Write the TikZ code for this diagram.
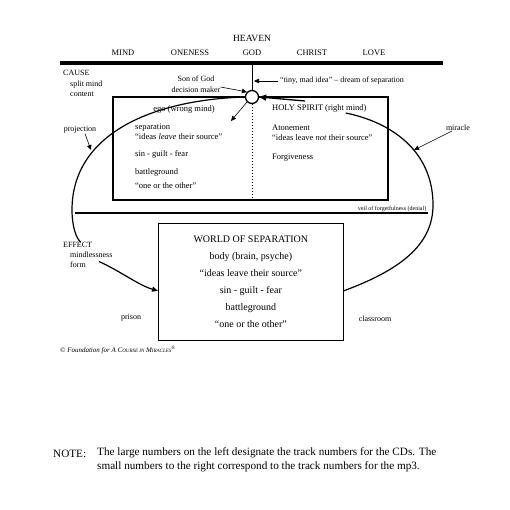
\documentclass[tikz,border=0pt]{standalone}
\usepackage{fontspec}
\setmainfont{Liberation Serif}
\usetikzlibrary{arrows.meta, positioning}

\newcommand{\acim}{A C{\fontsize{5}{6}\selectfont OURSE IN} M{\fontsize{5}{6}\selectfont IRACLES}}

\begin{document}
\begin{tikzpicture}[x=1pt, y=-1pt,
    head/.style={font=\fontsize{8.5}{10}\selectfont, inner sep=0pt},
    lbl/.style={font=\fontsize{8}{10.5}\selectfont, inner sep=0pt, align=left},
    boxtxt/.style={font=\fontsize{8.5}{9.5}\selectfont, inner sep=0pt, anchor=west, align=left},
    arr/.style={-{Triangle[length=5pt, width=4.5pt]}, line width=0.6pt},
    bigarr/.style={-{Triangle[length=7pt, width=6pt]}, line width=1.3pt},
    loopline/.style={line width=1.2pt}
]
    \useasboundingbox (0,0) rectangle (510,510);

    % heaven
    \node[font=\fontsize{9.5}{11}\selectfont, inner sep=0pt] (heaven) at (252,38) {HEAVEN};
    \node[head] (mindw)   at (123,53) {MIND};
    \node[head] (oneness) at (190,53) {ONENESS};
    \node[head] (god)     at (252,53) {GOD};
    \node[head] (christ)  at (312,53) {CHRIST};
    \node[head] (love)    at (374,53) {LOVE};
    \draw[line width=4pt] (60,63) -- (443,63);

    % split mind
    \node[draw, line width=1.4pt, minimum width=275pt, minimum height=103pt,
          inner sep=0pt, outer sep=0pt, anchor=north west] (split) at (113,97) {};
    \node[circle, draw, line width=1.3pt, fill=white, minimum size=13pt, inner sep=0pt] (dm) at (252,97) {};
    \node[lbl, anchor=north west] (cause) at (63,70.5)
        {CAUSE\\\hspace*{7pt}split mind\\\hspace*{7pt}content};
    \node[lbl, align=center] (son) at (196,84) {Son of God\\decision maker};
    \node[lbl, anchor=west] (tiny) at (280,81) {“tiny, mad idea” -- dream of separation};

    \node[boxtxt, anchor=center] (ego) at (184,109) {ego (wrong mind)};
    \node[boxtxt] (sep)      at (135,131.5) {separation\\“ideas \textit{leave} their source”};
    \node[boxtxt] (sgf)      at (135,154) {sin - guilt - fear};
    \node[boxtxt] (battle)   at (135,172) {battleground};
    \node[boxtxt] (oneother) at (135,186) {“one or the other”};

    \node[boxtxt] (hs)    at (272,108) {HOLY SPIRIT (right mind)};
    \node[boxtxt] (aton)  at (272,132.5) {Atonement\\“ideas leave \textit{not} their source”};
    \node[boxtxt] (forg)  at (272,158) {Forgiveness};

    \node[lbl] (proj)    at (80,130) {projection};
    \node[lbl] (miracle) at (458,128) {miracle};

    % veil
    \draw[line width=1.3pt] (75,213) -- (428,213);
    \node[font=\fontsize{6}{7}\selectfont, inner sep=0.5pt, anchor=south east] (veil) at (427,212)
        {veil of forgetfulness (denial)};

    % world
    \node[draw, line width=0.7pt, minimum width=185pt, minimum height=117pt, anchor=north west,
          font=\fontsize{10}{17}\selectfont, align=center] (world) at (158,223)
        {WORLD OF SEPARATION\\body (brain, psyche)\\“ideas leave their source”\\sin - guilt - fear\\battleground\\“one or the other”};
    \node[lbl, anchor=west] (effect) at (63,245) {EFFECT};
    \node[lbl, anchor=west] (mindless) at (70,255) {mindlessness};
    \node[lbl, anchor=west] (form) at (70,264.5) {form};
    \node[lbl] (prison)    at (131,318) {prison};
    \node[lbl] (classroom) at (375,319) {classroom};

    \coordinate (godtop) at (252,65);
    \coordinate (egotip) at (231,121);
    \coordinate (projtip) at (91,150);
    \coordinate (mirtip) at (414,150);
    \coordinate (hsstart) at (305,101);

    % loops
    \draw[loopline] (dm.west) .. controls (150,100) and (72,135) .. (72,210)
        .. controls (72,226) and (76,238) .. ([xshift=3pt]effect.north);
    \draw[loopline, -{Triangle[length=6pt, width=5pt]}] ([shift={(13pt,3pt)}]form.east)
        .. controls (122,272) and (138,285) .. ([yshift=-9pt]world.west);
    \draw[loopline] ([yshift=-9pt]world.east) .. controls (400,270) and (433,245) .. (433,205)
        .. controls (433,150) and (390,122) .. ([shift={(-21pt,-5pt)}]hs.east);
    \draw[bigarr] (hsstart) -- (dm.east);

    % decision maker
    \draw[line width=0.8pt] (godtop) -- (dm.north);
    \draw[line width=1pt, dotted] (dm.south) -- (dm.south |- split.south);
    \draw[arr, shorten <=2pt] (tiny.west) -- ([xshift=2pt]tiny.west -| dm.north);
    \draw[arr] ([yshift=-3pt]son.east) -- (dm.north west);
    \draw[arr] (dm.south west) -- (egotip);
    \draw[arr] ([xshift=5pt]proj.south) -- (projtip);
    \draw[arr] ([xshift=-6pt]miracle.south) -- (mirtip);

    % footer
    \node[anchor=west, inner sep=0pt, font=\fontsize{7}{8}\selectfont\itshape] (copy) at (60,350)
        {© Foundation for \acim\textsuperscript{®}};
    \node[anchor=west, inner sep=0pt, font=\fontsize{11.2}{14}\selectfont] (note) at (53,454) {NOTE:};
    \node[anchor=north west, inner sep=0pt, align=left, font=\fontsize{11.2}{14}\selectfont] (notetxt) at (97,447)
        {The large numbers on the left designate the track numbers for the CDs. The\\
         small numbers to the right correspond to the track numbers for the mp3.};
\end{tikzpicture}
\end{document}
